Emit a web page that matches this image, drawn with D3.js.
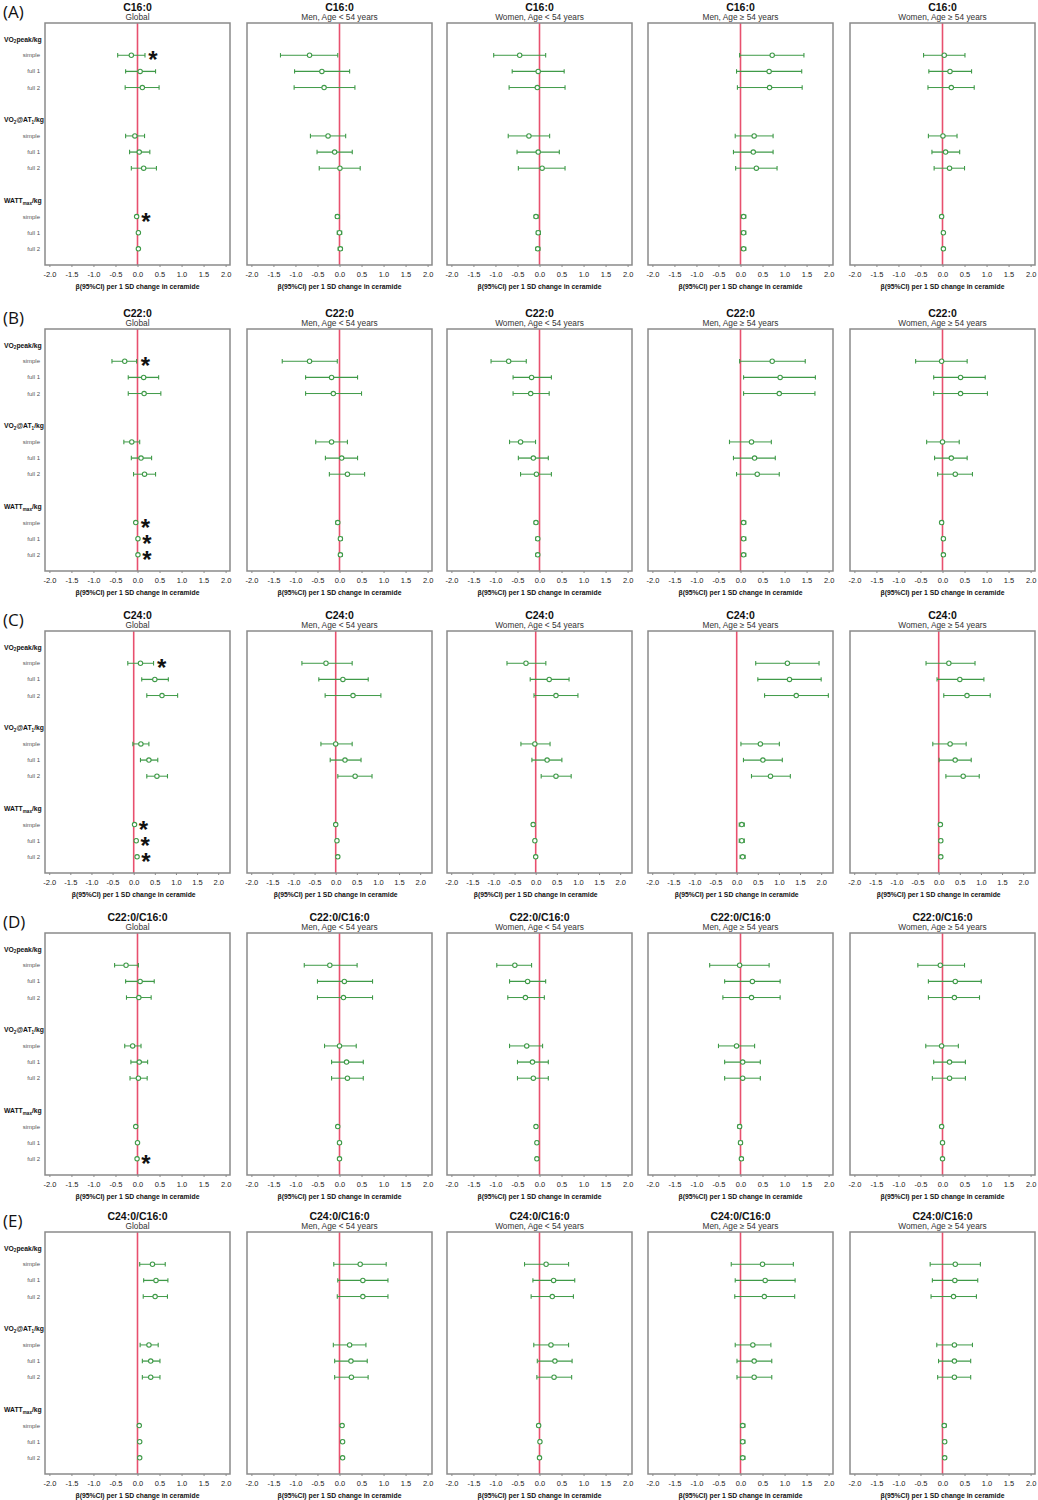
<!DOCTYPE html>
<meta charset="utf-8">
<head>
  <style>
    html, body { margin: 0; padding: 0; background: #fff; }
    svg { font-family: 'Liberation Sans', Arial, sans-serif; }
  </style>
  <script src="https://d3js.org/d3.v7.min.js"></script>
</head>
<body>
  <div id="my_dataviz"></div>
  <script>

    // ---- data ----
    const panelLetters = ["(A)", "(B)", "(C)", "(D)", "(E)"];
    const ceramides = ["C16:0", "C22:0", "C24:0", "C22:0/C16:0", "C24:0/C16:0"];
    const subgroups = ["Global", "Men, Age < 54 years", "Women, Age < 54 years", "Men, Age \u2265 54 years", "Women, Age \u2265 54 years"];
    const models = ["simple", "full 1", "full 2"];
    const xTicks = [-2.0, -1.5, -1.0, -0.5, 0.0, 0.5, 1.0, 1.5, 2.0];
    // x-axis range used in each row of panels
    const xDomains = [[-2.1, 2.1], [-2.1, 2.1], [-2.1, 2.28], [-2.1, 2.1], [-2.1, 2.1]];

    // each list: 5 subgroups x 9 rows
    // rows: VO2peak simple/full1/full2, VO2@AT simple/full1/full2, WATTmax simple/full1/full2
    const c16Est = [
      [-0.14, 0.06, 0.11, -0.06, 0.04, 0.14, -0.02, 0.02, 0.02],
      [-0.68, -0.40, -0.35, -0.26, -0.11, 0.01, -0.05, 0.00, 0.02],
      [-0.45, -0.03, -0.05, -0.24, -0.03, 0.06, -0.08, -0.03, -0.04],
      [0.72, 0.65, 0.66, 0.31, 0.29, 0.36, 0.07, 0.07, 0.07],
      [0.04, 0.17, 0.20, 0.01, 0.07, 0.16, -0.02, 0.02, 0.02]];
    const c16Lo = [
      [-0.45, -0.27, -0.28, -0.27, -0.18, -0.14, -0.04, 0.00, 0.00],
      [-1.34, -1.02, -1.03, -0.66, -0.51, -0.46, -0.09, -0.05, -0.03],
      [-1.04, -0.62, -0.69, -0.71, -0.51, -0.48, -0.12, -0.07, -0.08],
      [-0.02, -0.09, -0.07, -0.12, -0.16, -0.11, 0.02, 0.02, 0.02],
      [-0.43, -0.31, -0.33, -0.32, -0.24, -0.19, -0.05, -0.01, -0.01]];
    const c16Hi = [
      [0.17, 0.41, 0.49, 0.16, 0.28, 0.43, 0.01, 0.04, 0.04],
      [-0.04, 0.23, 0.35, 0.14, 0.29, 0.47, 0.00, 0.05, 0.06],
      [0.14, 0.56, 0.58, 0.23, 0.45, 0.58, -0.03, 0.02, 0.01],
      [1.44, 1.39, 1.40, 0.74, 0.74, 0.83, 0.12, 0.12, 0.12],
      [0.51, 0.66, 0.72, 0.33, 0.39, 0.50, 0.01, 0.04, 0.05]];

    const c22Est = [
      [-0.29, 0.14, 0.15, -0.13, 0.08, 0.16, -0.04, 0.01, 0.01],
      [-0.68, -0.18, -0.14, -0.18, 0.05, 0.18, -0.04, 0.02, 0.02],
      [-0.70, -0.18, -0.20, -0.43, -0.14, -0.07, -0.08, -0.04, -0.04],
      [0.72, 0.90, 0.88, 0.25, 0.32, 0.38, 0.07, 0.07, 0.07],
      [-0.02, 0.41, 0.41, 0.00, 0.20, 0.29, -0.02, 0.02, 0.02]];
    const c22Lo = [
      [-0.58, -0.21, -0.21, -0.31, -0.14, -0.09, -0.06, -0.01, -0.01],
      [-1.30, -0.77, -0.77, -0.54, -0.32, -0.23, -0.08, -0.02, -0.02],
      [-1.10, -0.60, -0.60, -0.68, -0.48, -0.43, -0.12, -0.08, -0.08],
      [-0.02, 0.07, 0.07, -0.25, -0.16, -0.09, 0.03, 0.03, 0.03],
      [-0.61, -0.20, -0.20, -0.36, -0.18, -0.11, -0.05, -0.02, -0.02]];
    const c22Hi = [
      [-0.02, 0.48, 0.53, 0.05, 0.32, 0.41, -0.01, 0.03, 0.03],
      [-0.05, 0.41, 0.50, 0.18, 0.41, 0.57, 0.00, 0.06, 0.06],
      [-0.30, 0.27, 0.22, -0.09, 0.20, 0.27, -0.04, 0.00, 0.00],
      [1.47, 1.70, 1.69, 0.70, 0.79, 0.88, 0.12, 0.12, 0.12],
      [0.56, 0.97, 1.02, 0.38, 0.56, 0.68, 0.02, 0.05, 0.05]];

    const c24Est = [
      [0.16, 0.50, 0.67, 0.17, 0.36, 0.55, 0.02, 0.06, 0.08],
      [-0.23, 0.17, 0.41, 0.00, 0.22, 0.46, 0.00, 0.03, 0.05],
      [-0.23, 0.32, 0.48, -0.02, 0.27, 0.48, -0.06, -0.02, 0.00],
      [1.20, 1.25, 1.41, 0.56, 0.62, 0.80, 0.12, 0.12, 0.14],
      [0.24, 0.50, 0.67, 0.27, 0.39, 0.58, 0.04, 0.05, 0.05]];
    const c24Lo = [
      [-0.14, 0.19, 0.31, -0.02, 0.16, 0.31, 0.00, 0.04, 0.06],
      [-0.80, -0.40, -0.25, -0.35, -0.13, 0.05, -0.03, 0.00, 0.02],
      [-0.68, -0.13, -0.04, -0.35, -0.09, 0.13, -0.09, -0.05, -0.03],
      [0.45, 0.50, 0.66, 0.10, 0.16, 0.35, 0.06, 0.06, 0.08],
      [-0.30, -0.04, 0.12, -0.14, 0.01, 0.17, 0.01, 0.02, 0.02]];
    const c24Hi = [
      [0.47, 0.82, 1.04, 0.36, 0.57, 0.80, 0.04, 0.08, 0.10],
      [0.39, 0.77, 1.07, 0.39, 0.60, 0.86, 0.03, 0.06, 0.08],
      [0.24, 0.79, 1.00, 0.34, 0.62, 0.84, -0.03, 0.01, 0.03],
      [1.95, 2.00, 2.17, 1.01, 1.08, 1.27, 0.18, 0.18, 0.20],
      [0.86, 1.07, 1.22, 0.65, 0.77, 0.96, 0.07, 0.08, 0.08]];

    const r2216Est = [
      [-0.26, 0.06, 0.03, -0.11, 0.04, 0.02, -0.04, 0.00, -0.01],
      [-0.22, 0.11, 0.09, 0.00, 0.16, 0.18, -0.04, 0.00, 0.00],
      [-0.56, -0.27, -0.32, -0.29, -0.16, -0.14, -0.08, -0.06, -0.06],
      [-0.02, 0.27, 0.25, -0.09, 0.05, 0.05, -0.02, 0.00, 0.02],
      [-0.05, 0.29, 0.27, -0.02, 0.16, 0.16, -0.02, 0.00, 0.00]];
    const r2216Lo = [
      [-0.52, -0.27, -0.25, -0.29, -0.15, -0.17, -0.05, -0.01, -0.02],
      [-0.80, -0.50, -0.50, -0.34, -0.18, -0.18, -0.07, -0.03, -0.03],
      [-0.97, -0.68, -0.72, -0.68, -0.50, -0.50, -0.11, -0.09, -0.09],
      [-0.70, -0.36, -0.40, -0.50, -0.36, -0.36, -0.06, -0.04, -0.02],
      [-0.56, -0.32, -0.32, -0.38, -0.20, -0.23, -0.05, -0.03, -0.03]];
    const r2216Hi = [
      [0.02, 0.38, 0.31, 0.08, 0.23, 0.22, -0.02, 0.01, 0.01],
      [0.40, 0.75, 0.75, 0.38, 0.54, 0.54, -0.01, 0.03, 0.03],
      [-0.18, 0.14, 0.11, 0.07, 0.20, 0.20, -0.05, -0.03, -0.03],
      [0.65, 0.90, 0.90, 0.32, 0.45, 0.45, 0.02, 0.04, 0.06],
      [0.50, 0.88, 0.84, 0.36, 0.52, 0.52, 0.01, 0.03, 0.03]];

    const r2416Est = [
      [0.34, 0.42, 0.40, 0.26, 0.30, 0.30, 0.04, 0.05, 0.05],
      [0.47, 0.53, 0.53, 0.23, 0.26, 0.27, 0.06, 0.07, 0.07],
      [0.15, 0.32, 0.29, 0.26, 0.35, 0.33, -0.02, 0.01, 0.00],
      [0.50, 0.56, 0.54, 0.28, 0.31, 0.31, 0.05, 0.05, 0.05],
      [0.29, 0.28, 0.25, 0.27, 0.27, 0.27, 0.04, 0.05, 0.05]];
    const r2416Lo = [
      [0.05, 0.14, 0.13, 0.06, 0.11, 0.11, 0.03, 0.04, 0.04],
      [-0.13, -0.04, -0.05, -0.14, -0.11, -0.11, 0.03, 0.04, 0.04],
      [-0.34, -0.15, -0.19, -0.13, -0.05, -0.06, -0.05, -0.02, -0.03],
      [-0.21, -0.12, -0.13, -0.12, -0.08, -0.08, 0.00, 0.00, 0.00],
      [-0.28, -0.23, -0.26, -0.13, -0.09, -0.11, 0.00, 0.02, 0.02]];
    const r2416Hi = [
      [0.63, 0.69, 0.68, 0.47, 0.51, 0.51, 0.05, 0.06, 0.06],
      [1.06, 1.10, 1.10, 0.60, 0.63, 0.65, 0.09, 0.10, 0.10],
      [0.66, 0.80, 0.77, 0.66, 0.74, 0.73, 0.01, 0.04, 0.03],
      [1.20, 1.24, 1.23, 0.69, 0.71, 0.71, 0.10, 0.10, 0.10],
      [0.86, 0.80, 0.77, 0.68, 0.64, 0.64, 0.08, 0.08, 0.08]];

    // rows marked with * (Global panel only)
    const starRows = [[0, 6], [0, 6, 7, 8], [0, 6, 7, 8], [8], []];

    const blocks = [
      { est: c16Est, lo: c16Lo, hi: c16Hi },
      { est: c22Est, lo: c22Lo, hi: c22Hi },
      { est: c24Est, lo: c24Lo, hi: c24Hi },
      { est: r2216Est, lo: r2216Lo, hi: r2216Hi },
      { est: r2416Est, lo: r2416Lo, hi: r2416Hi }];

    // ---- layout ----
    const rowTops = [23, 329, 631, 933, 1232];
    const colLefts = [45, 247, 447, 648, 850];
    const panelW = 185, panelH = 242;
    const green = "#3f9a48", red = "#e8506e";

    const svg = d3.select("#my_dataviz")
      .append("svg")
      .attr("width", 1038)
      .attr("height", 1500);

    const fmt = d3.formatLocale({ decimal: ".", thousands: ",", grouping: [3], currency: ["", ""], minus: "-" }).format(".1f");

    // y slots: group header, 3 rows, blank ...
    const y = d3.scaleLinear().domain([-1, 14]).range([0, panelH]);
    const slotOf = i => Math.floor(i / 3) * 5 + 1 + i % 3;

    blocks.forEach(function (b, r) {
      const top = rowTops[r];

      svg.append("text")
        .attr("x", 3)
        .attr("y", top - 5)
        .style("font-family", "'Open Sans', 'Liberation Sans', sans-serif")
        .style("font-size", "17px")
        .attr("fill", "#111")
        .text(panelLetters[r]);

      for (let c = 0; c < 5; c++) {
        const g = svg.append("g").attr("transform", `translate(${colLefts[c]},${top})`);
        const x = d3.scaleLinear().domain(xDomains[r]).range([0, panelW]);

        // titles
        g.append("text")
          .attr("x", panelW / 2).attr("y", -12)
          .attr("text-anchor", "middle")
          .style("font-size", "10.5px").style("font-weight", "bold")
          .attr("fill", "#111")
          .text(ceramides[r]);
        g.append("text")
          .attr("x", panelW / 2).attr("y", -3)
          .attr("text-anchor", "middle")
          .style("font-size", "8.3px")
          .attr("fill", "#333")
          .text(subgroups[c]);

        // x axis
        const ax = g.append("g")
          .attr("transform", `translate(0,${panelH})`)
          .call(d3.axisBottom(x).tickValues(xTicks).tickFormat(fmt).tickSize(2).tickPadding(5));
        ax.select(".domain").remove();
        ax.selectAll("line").attr("stroke", "#888");
        ax.selectAll("text").style("font-size", "7.5px").attr("fill", "#222")
          .style("font-family", "'Liberation Sans', Arial, sans-serif");

        g.append("text")
          .attr("x", x(0))
          .attr("y", panelH + 24)
          .attr("text-anchor", "middle")
          .style("font-size", "6.8px").style("font-weight", "bold")
          .attr("fill", "#111")
          .text("\u03b2(95%CI) per 1 SD change in ceramide");

        // reference line at zero
        g.append("line")
          .attr("x1", x(0)).attr("x2", x(0))
          .attr("y1", 0).attr("y2", panelH)
          .attr("stroke", red).attr("stroke-width", 1.6);

        const rows = d3.range(9).map(i => ({
          i: i, est: b.est[c][i], lo: b.lo[c][i], hi: b.hi[c][i], slot: slotOf(i)
        }));

        // CI lines
        g.selectAll(".ci").data(rows).join("line")
          .attr("class", "ci")
          .attr("x1", d => x(d.lo)).attr("x2", d => x(d.hi))
          .attr("y1", d => y(d.slot)).attr("y2", d => y(d.slot))
          .attr("stroke", green).attr("stroke-width", d => d.i % 3 === 1 ? 1.3 : 1);
        g.selectAll(".capl").data(rows).join("line")
          .attr("class", "capl")
          .attr("x1", d => x(d.lo)).attr("x2", d => x(d.lo))
          .attr("y1", d => y(d.slot) - 2.2).attr("y2", d => y(d.slot) + 2.2)
          .attr("stroke", green).attr("stroke-width", 1.1);
        g.selectAll(".caph").data(rows).join("line")
          .attr("class", "caph")
          .attr("x1", d => x(d.hi)).attr("x2", d => x(d.hi))
          .attr("y1", d => y(d.slot) - 2.2).attr("y2", d => y(d.slot) + 2.2)
          .attr("stroke", green).attr("stroke-width", 1.1);
        g.selectAll(".pt").data(rows).join("circle")
          .attr("class", "pt")
          .attr("cx", d => x(d.est)).attr("cy", d => y(d.slot))
          .attr("r", 2.2)
          .attr("fill", "#fff").attr("stroke", green).attr("stroke-width", 1.1);

        // frame
        g.append("rect")
          .attr("width", panelW).attr("height", panelH)
          .attr("fill", "none").attr("stroke", "#8a8a8a").attr("stroke-width", 1.5);

        // y labels on the Global column only
        if (c === 0) {
          const groups = [
            [["VO", 0], ["2", 1], ["peak/kg", 0]],
            [["VO", 0], ["2", 1], ["@AT", 0], ["1", 1], ["/kg", 0]],
            [["WATT", 0], ["max", 1], ["/kg", 0]]];
          groups.forEach(function (parts, k) {
            const t = svg.append("text")
              .attr("x", 4)
              .attr("y", top + y(k * 5) + 2.5)
              .style("font-size", "6.8px").style("font-weight", "bold")
              .attr("fill", "#111");
            let shifted = 0;
            parts.forEach(function (p) {
              const dy = p[1] ? 1.8 - shifted : -shifted;
              t.append("tspan")
                .attr("dy", dy)
                .style("font-size", p[1] ? "4.6px" : "6.8px")
                .text(p[0]);
              shifted = p[1] ? 1.8 : 0;
            });
          });
          svg.selectAll(null).data(rows).enter().append("text")
            .attr("x", 40)
            .attr("y", d => top + y(d.slot) + 2)
            .attr("text-anchor", "end")
            .style("font-size", "6px")
            .attr("fill", "#555")
            .text(d => models[d.i % 3]);

          // significance marks
          g.selectAll(".star").data(rows.filter(d => starRows[r].includes(d.i))).join("text")
            .attr("class", "star")
            .attr("x", d => x(Math.max(d.hi, 0)) + 8)
            .attr("y", d => y(d.slot) + 13)
            .attr("text-anchor", "middle")
            .style("font-size", "24px").style("font-weight", "bold")
            .attr("fill", "#111")
            .text("*");
        }
      }
    });

  </script>
</body>
